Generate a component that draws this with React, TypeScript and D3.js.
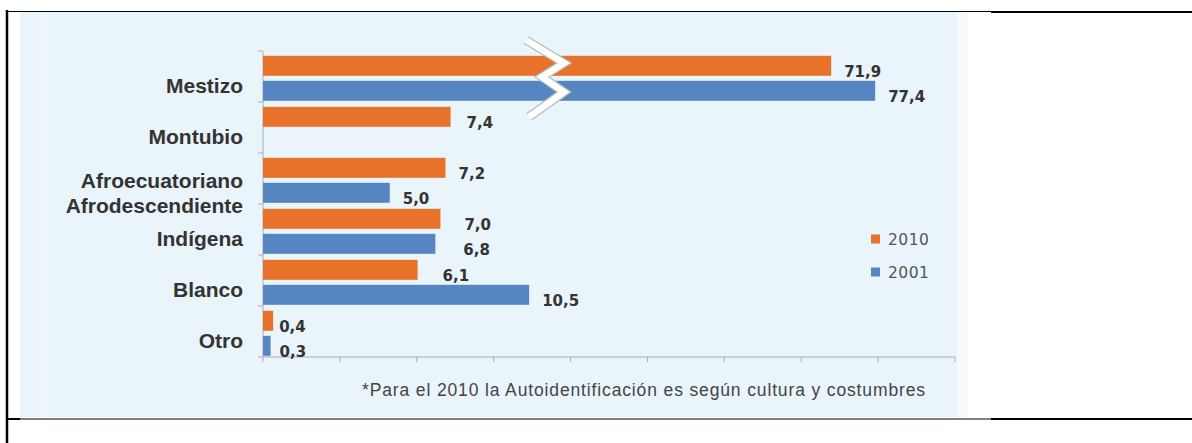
import React from "react";
import * as d3 from "d3";

// categories (a "\n" splits a label over two lines)
const categories = [
  "Mestizo",
  "Montubio",
  "Afroecuatoriano\nAfrodescendiente",
  "Indígena",
  "Blanco",
  "Otro",
];
const seriesNames = ["2010", "2001"];
const values2010 = [71.9, 7.4, 7.2, 7.0, 6.1, 0.4];
const values2001 = [77.4, null, 5.0, 6.8, 10.5, 0.3];
const seriesColors = ["#E8722A", "#5686C1"];

// axis: 10 evenly spaced ticks, no labels
const axisMax = 27.3;
const axisTickCount = 10;
// scale break used by the Mestizo bars
const breakAt = 11.4;
const resumeAt = 37;

const footnote =
  "*Para el 2010 la Autoidentificación es según cultura y costumbres";

function App() {
  const width = 1192;
  const height = 443;
  const plot = { left: 263, right: 955, top: 51, bottom: 357 };

  const yScale = d3
    .scaleBand<string>()
    .domain(categories)
    .range([plot.top, plot.bottom]);
  const subScale = d3
    .scaleBand<string>()
    .domain(seriesNames)
    .range([0, yScale.bandwidth()])
    .paddingInner(0.2)
    .paddingOuter(0.12)
    .align(0.8);
  const xScale = d3
    .scaleLinear()
    .domain([0, axisMax])
    .range([plot.left, plot.right]);
  const breakX = xScale(breakAt);
  // after the break, 8px per unit
  const xBroken = d3
    .scaleLinear()
    .domain([resumeAt, resumeAt + 10])
    .range([breakX, breakX + 80]);
  const barEnd = (v: number) => (v > breakAt ? xBroken(v) : xScale(v));

  const ticks = d3.range(axisTickCount).map((i) => (axisMax * i) / (axisTickCount - 1));
  const fmt = (v: number) => d3.format(".1f")(v).replace(".", ",");

  const seriesValues = [values2010, values2001];

  // manual label nudges, like the hand placed labels of the original
  const nudge: Record<string, number> = {
    "Montubio-0": 3,
    "Indígena-0": 11,
    "Indígena-1": 15,
    "Blanco-0": 12,
    "Otro-0": -7,
    "Otro-1": -4,
  };

  const mestizoTop = yScale("Mestizo") as number;
  const zig = [
    [-26, -11],
    [12, 12],
    [-10, 26],
    [12, 41],
    [-23, 66],
  ]
    .map(([dx, dy]) => `${breakX + dx},${mestizoTop + dy}`)
    .join(" ");

  return (
    <svg
      width={width}
      height={height}
      style={{ position: "absolute", left: 0, top: 0, background: "#fff" }}
    >
      {/**panel */}
      <rect x={20} y={12} width={937} height={405} fill="#EAF4FB" />
      <rect x={40} y={12} width={8} height={405} fill="#F0F7FC" />
      <rect x={957} y={12} width={11} height={405} fill="#F6FAFD" />

      {/**table borders */}
      <line x1={7} x2={7} y1={10} y2={height} stroke="#000" strokeWidth={2.5} />
      <line x1={6} x2={991} y1={11.5} y2={11.5} stroke="#000" strokeWidth={1.2} />
      <line x1={991} x2={width} y1={12} y2={12} stroke="#000" strokeWidth={2} />
      <line x1={6} x2={20} y1={419} y2={419} stroke="#000" strokeWidth={2} />
      <line x1={20} x2={991} y1={419} y2={419} stroke="#000" strokeWidth={1.2} />
      <line x1={991} x2={width} y1={419} y2={419} stroke="#000" strokeWidth={2} />

      {/**axes */}
      <g stroke="#A9AEB3" strokeWidth={1}>
        <line x1={plot.left} x2={plot.left} y1={plot.top} y2={plot.bottom} />
        {[...categories.map((c) => yScale(c) as number), plot.bottom].map((t, i) => (
          <line key={i} x1={plot.left - 5} x2={plot.left} y1={t} y2={t} />
        ))}
        <line x1={plot.left} x2={plot.right} y1={plot.bottom} y2={plot.bottom} />
        {ticks.map((t, i) => (
          <line
            key={i}
            x1={xScale(t)}
            x2={xScale(t)}
            y1={plot.bottom}
            y2={plot.bottom + 5}
          />
        ))}
      </g>

      {/**bars */}
      {categories.map((c, ci) =>
        seriesNames.map((s, si) => {
          const v = seriesValues[si][ci];
          if (v == null) return null;
          const y0 = (yScale(c) as number) + (subScale(s) as number);
          return (
            <rect
              key={c + s}
              x={xScale(0)}
              y={y0}
              width={barEnd(v) - xScale(0)}
              height={subScale.bandwidth()}
              fill={seriesColors[si]}
            />
          );
        })
      )}

      {/**scale break */}
      <polyline points={zig} fill="none" stroke="#B8BCC0" strokeWidth={9} strokeLinejoin="miter" />
      <polyline points={zig} fill="none" stroke="#fff" strokeWidth={6.5} strokeLinejoin="miter" />

      {/**value labels */}
      <g
        style={{ fontFamily: "DejaVu Sans", fontWeight: "bold", fontSize: 15 }}
        fill="#333"
      >
        {categories.map((c, ci) =>
          seriesNames.map((s, si) => {
            const v = seriesValues[si][ci];
            if (v == null) return null;
            const yc =
              (yScale(c) as number) + (subScale(s) as number) + subScale.bandwidth() / 2;
            return (
              <text
                key={c + s}
                x={barEnd(v) + 13 + (nudge[`${c}-${si}`] || 0)}
                y={yc + 11}
              >
                {fmt(v)}
              </text>
            );
          })
        )}
      </g>

      {/**category labels */}
      <g
        style={{
          fontFamily: "Liberation Sans, Arial, sans-serif",
          fontWeight: "bold",
          fontSize: 21,
          textAnchor: "end",
        }}
        fill="#333"
      >
        {categories.map((c) => {
          const lines = c.split("\n");
          const mid = (yScale(c) as number) + yScale.bandwidth() / 2;
          const first = lines.length > 1 ? mid + 9.5 : mid + 16.5;
          return (
            <text key={c} x={243} y={first}>
              {lines.map((l, i) => (
                <tspan key={i} x={243} y={first + i * 25}>
                  {l}
                </tspan>
              ))}
            </text>
          );
        })}
      </g>

      {/**legend */}
      <g
        style={{ fontFamily: "DejaVu Sans", fontSize: 15.5, letterSpacing: 0.5 }}
        fill="#555"
      >
        {seriesNames.map((s, i) => (
          <g key={s} transform={`translate(871,${239 + i * 33})`}>
            <rect x={0} y={-4.5} width={9} height={9} fill={seriesColors[i]} />
            <text x={17} dy=".36em">
              {s}
            </text>
          </g>
        ))}
      </g>

      {/**footnote */}
      <text
        x={362}
        y={396}
        textLength={563}
        lengthAdjust="spacing"
        style={{ fontFamily: "Liberation Sans, Arial, sans-serif", fontSize: 17.5 }}
        fill="#444"
      >
        {footnote}
      </text>
    </svg>
  );
}

export default App;
